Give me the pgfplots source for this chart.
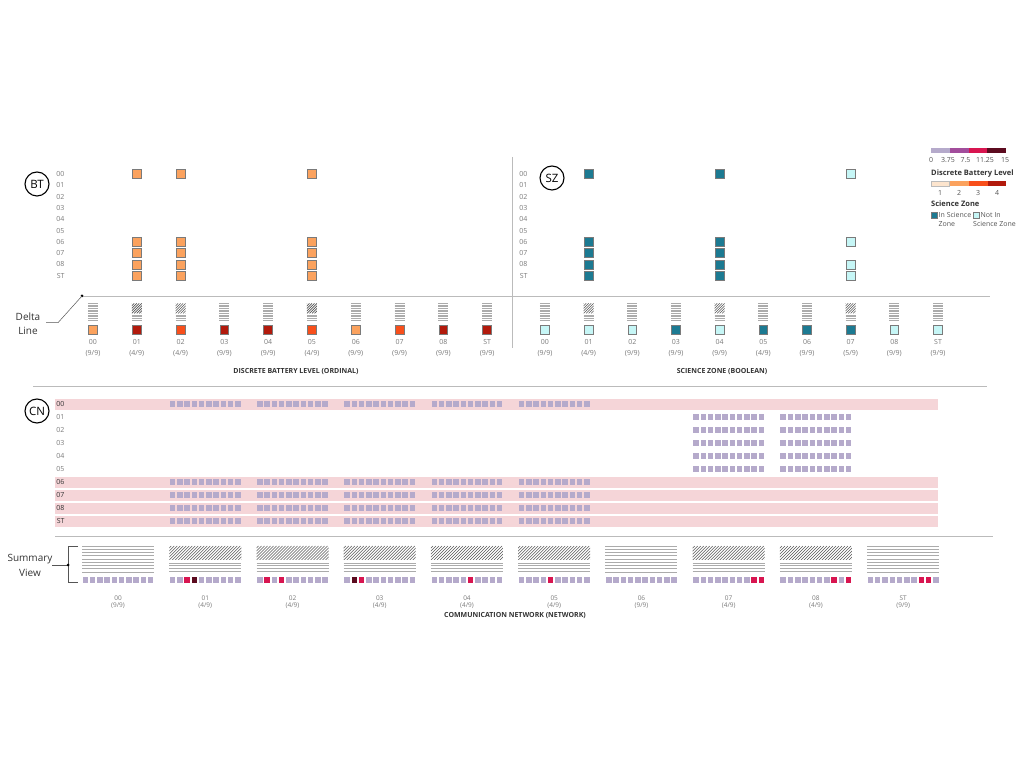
\documentclass[border=0pt]{standalone}
\usepackage{fontspec}
\setmainfont{Open Sans}
\usepackage{pgfplots}
\pgfplotsset{compat=1.18}

\definecolor{bl1}{HTML}{FDE5CE}
\definecolor{bl2}{HTML}{FBA25E}
\definecolor{bl3}{HTML}{F84F1B}
\definecolor{bl4}{HTML}{B21A0C}
\definecolor{szin}{HTML}{1C7A92}
\definecolor{szout}{HTML}{C6F6F6}
\definecolor{lav}{HTML}{B5AACB}
\definecolor{purp}{HTML}{A24D9C}
\definecolor{crim}{HTML}{D81550}
\definecolor{maroon}{HTML}{5C0B1F}
\definecolor{band}{HTML}{F5D5D8}
\definecolor{tickg}{HTML}{7A7A7A}
\definecolor{txt}{HTML}{333333}
\definecolor{rule}{HTML}{BBBBBB}
\definecolor{hlg}{HTML}{ABABAB}
\definecolor{hdk}{HTML}{555555}
\definecolor{sqb}{HTML}{7A7A7A}

% delta glyph: horizontal lines only
\pgfdeclareplotmark{dH}{%
  \pgfsetlinewidth{0.5pt}\pgfsetstrokecolor{hlg}%
  \foreach \k in {0,...,10}{%
    \pgfmathsetmacro\yy{8.5-1.65*\k}%
    \pgfpathmoveto{\pgfpoint{-5pt}{\yy pt}}\pgfpathlineto{\pgfpoint{5pt}{\yy pt}}\pgfusepath{stroke}}}
% delta glyph: hatched top, lines below
\pgfdeclareplotmark{dD}{%
  \pgfsetlinewidth{0.6pt}%
  \begin{pgfscope}%
    \pgfpathrectangle{\pgfpoint{-5pt}{-1.5pt}}{\pgfpoint{10pt}{10pt}}\pgfusepath{clip}%
    \pgfsetstrokecolor{hdk}%
    \foreach \k in {-15,-12.5,...,5}{%
      \pgfmathsetmacro\kk{\k+10}%
      \pgfpathmoveto{\pgfpoint{\k pt}{-1.5pt}}\pgfpathlineto{\pgfpoint{\kk pt}{8.5pt}}\pgfusepath{stroke}}%
  \end{pgfscope}%
  \pgfsetlinewidth{0.5pt}\pgfsetstrokecolor{hlg}%
  \foreach \yy in {-3,-4.7,-6.35,-8}{%
    \pgfpathmoveto{\pgfpoint{-5pt}{\yy pt}}\pgfpathlineto{\pgfpoint{5pt}{\yy pt}}\pgfusepath{stroke}}}
% summary glyph: lines only
\pgfdeclareplotmark{sH}{%
  \pgfsetlinewidth{0.8pt}\pgfsetstrokecolor{hlg}%
  \foreach \k in {0,...,8}{%
    \pgfmathsetmacro\yy{13-3.25*\k}%
    \pgfpathmoveto{\pgfpoint{-36pt}{\yy pt}}\pgfpathlineto{\pgfpoint{36pt}{\yy pt}}\pgfusepath{stroke}}}
% summary glyph: hatched top, lines below
\pgfdeclareplotmark{sD}{%
  \pgfsetlinewidth{0.6pt}%
  \begin{pgfscope}%
    \pgfpathrectangle{\pgfpoint{-36pt}{-1pt}}{\pgfpoint{72pt}{14pt}}\pgfusepath{clip}%
    \pgfsetstrokecolor{hdk}%
    \foreach \k in {-54,-51,...,36}{%
      \pgfmathsetmacro\kk{\k+14}%
      \pgfpathmoveto{\pgfpoint{\k pt}{-1pt}}\pgfpathlineto{\pgfpoint{\kk pt}{13pt}}\pgfusepath{stroke}}%
  \end{pgfscope}%
  \pgfsetlinewidth{0.8pt}\pgfsetstrokecolor{hlg}%
  \foreach \yy in {-4,-6.67,-9.33,-12}{%
    \pgfpathmoveto{\pgfpoint{-36pt}{\yy pt}}\pgfpathlineto{\pgfpoint{36pt}{\yy pt}}\pgfusepath{stroke}}}
% strip of ten small squares
\pgfdeclareplotmark{strip}{%
  \pgfsetfillcolor{lav}%
  \foreach \k in {0,...,9}{%
    \pgfmathsetmacro\xx{(\k-4.5)*7.27-2.75}%
    \pgfpathrectangle{\pgfpoint{\xx pt}{-2.75pt}}{\pgfpoint{5.5pt}{5.5pt}}\pgfusepath{fill}}}
% plain filled square
\pgfdeclareplotmark{fsq}{%
  \pgfpathrectangle{\pgfpoint{-\pgfplotmarksize}{-\pgfplotmarksize}}{\pgfpoint{2\pgfplotmarksize}{2\pgfplotmarksize}}\pgfusepathqfill}

\pgfplotsset{
  panel/.style={axis line style={draw=none}, major tick length=0pt, clip=false,
    tick style={draw=none}, anchor=south west,
    tick label style={font=\fontsize{7}{11}\selectfont, text=tickg},
    xticklabel style={align=center},
    /pgf/number format/assume math mode=true},
  bigsq/.style={only marks, mark=square*, mark size=4.4pt},
}

\begin{document}
\begin{tikzpicture}[x=1pt,y=1pt]
\path (0,0) rectangle (1024,768);

% ---------- rules ----------
\draw[rule, line width=0.8pt] (82,472) -- (990,472);
\fill[black] (82,472) circle (1.5pt);
\draw[rule, line width=0.8pt] (512,611) -- (512,420);
\draw[rule, line width=0.8pt] (33,382) -- (987,382);
\draw[rule, line width=0.8pt] (55,232) -- (993,232);

% ---------- BT panel ----------
\begin{axis}[panel, x=43.8pt, y=11.3pt, xmin=-0.57, xmax=9.5, ymin=-14.3, ymax=0.8,
  at={(68pt,432.4pt)},
  xtick={0,...,9},
  xticklabels={{00\\(9/9)},{01\\(4/9)},{02\\(4/9)},{03\\(9/9)},{04\\(9/9)},{05\\(4/9)},{06\\(9/9)},{07\\(9/9)},{08\\(9/9)},{ST\\(9/9)}},
  ytick={-9,...,0},
  yticklabels={ST,08,07,06,05,04,03,02,01,00}]
\addplot[bigsq, mark options={fill=bl2, draw=sqb, line width=0.6pt}] coordinates {
 (1,0)(1,-6)(1,-7)(1,-8)(1,-9)
 (2,0)(2,-6)(2,-7)(2,-8)(2,-9)
 (5,0)(5,-6)(5,-7)(5,-8)(5,-9)};
\addplot[only marks, mark=dH] coordinates {(0,-12.2)(3,-12.2)(4,-12.2)(6,-12.2)(7,-12.2)(8,-12.2)(9,-12.2)};
\addplot[only marks, mark=dD] coordinates {(1,-12.2)(2,-12.2)(5,-12.2)};
\addplot[bigsq, mark options={fill=bl2, draw=sqb, line width=0.6pt}] coordinates {(0,-13.8)(6,-13.8)};
\addplot[bigsq, mark options={fill=bl3, draw=sqb, line width=0.6pt}] coordinates {(2,-13.8)(5,-13.8)(7,-13.8)};
\addplot[bigsq, mark options={fill=bl4, draw=sqb, line width=0.6pt}] coordinates {(1,-13.8)(3,-13.8)(4,-13.8)(8,-13.8)(9,-13.8)};
\end{axis}

% ---------- SZ panel ----------
\begin{axis}[panel, x=43.67pt, y=11.3pt, xmin=-0.32, xmax=9.5, ymin=-14.3, ymax=0.8,
  at={(531pt,432.4pt)},
  xtick={0,...,9},
  xticklabels={{00\\(9/9)},{01\\(4/9)},{02\\(9/9)},{03\\(9/9)},{04\\(9/9)},{05\\(4/9)},{06\\(9/9)},{07\\(5/9)},{08\\(9/9)},{ST\\(9/9)}},
  ytick={-9,...,0},
  yticklabels={ST,08,07,06,05,04,03,02,01,00}]
\addplot[bigsq, mark options={fill=szin, draw=sqb, line width=0.6pt}] coordinates {
 (1,0)(1,-6)(1,-7)(1,-8)(1,-9)
 (4,0)(4,-6)(4,-7)(4,-8)(4,-9)};
\addplot[bigsq, mark options={fill=szout, draw=sqb, line width=0.6pt}] coordinates {
 (7,0)(7,-6)(7,-8)(7,-9)};
\addplot[only marks, mark=dH] coordinates {(0,-12.2)(2,-12.2)(3,-12.2)(5,-12.2)(6,-12.2)(8,-12.2)(9,-12.2)};
\addplot[only marks, mark=dD] coordinates {(1,-12.2)(4,-12.2)(7,-12.2)};
\addplot[bigsq, mark options={fill=szout, draw=sqb, line width=0.6pt}] coordinates {(0,-13.8)(1,-13.8)(2,-13.8)(4,-13.8)(8,-13.8)(9,-13.8)};
\addplot[bigsq, mark options={fill=szin, draw=sqb, line width=0.6pt}] coordinates {(3,-13.8)(5,-13.8)(6,-13.8)(7,-13.8)};
\end{axis}

% ---------- CN panel ----------
\begin{axis}[panel, axis on top, x=7.27pt, y=13pt, xmin=-2.38, xmax=118, ymin=-14.46, ymax=0.8,
  at={(68pt,176pt)},
  xticklabel style={font=\fontsize{6.5}{7.4}\selectfont},
  yticklabel style={font=\fontsize{7}{8}\selectfont, text=txt},
  xtick={4.5,16.5,28.5,40.5,52.5,64.5,76.5,88.5,100.5,112.5},
  xticklabels={{00\\(9/9)},{01\\(4/9)},{02\\(4/9)},{03\\(4/9)},{04\\(4/9)},{05\\(4/9)},{06\\(9/9)},{07\\(4/9)},{08\\(4/9)},{ST\\(9/9)}},
  ytick={-9,...,0},
  yticklabels={ST,08,07,06,{\color{tickg}05},{\color{tickg}04},{\color{tickg}03},{\color{tickg}02},{\color{tickg}01},00}]
\addplot[band, line width=11pt, no marks] coordinates {(-4.17,0)(117.3,0)};
\addplot[band, line width=11pt, no marks] coordinates {(-4.17,-6)(117.3,-6)};
\addplot[band, line width=11pt, no marks] coordinates {(-4.17,-7)(117.3,-7)};
\addplot[band, line width=11pt, no marks] coordinates {(-4.17,-8)(117.3,-8)};
\addplot[band, line width=11pt, no marks] coordinates {(-4.17,-9)(117.3,-9)};
\addplot[only marks, mark=strip] coordinates {
 (16.5,0)(16.5,-6)(16.5,-7)(16.5,-8)(16.5,-9)
 (28.5,0)(28.5,-6)(28.5,-7)(28.5,-8)(28.5,-9)
 (40.5,0)(40.5,-6)(40.5,-7)(40.5,-8)(40.5,-9)
 (52.5,0)(52.5,-6)(52.5,-7)(52.5,-8)(52.5,-9)
 (64.5,0)(64.5,-6)(64.5,-7)(64.5,-8)(64.5,-9)
 (88.5,-1)(88.5,-2)(88.5,-3)(88.5,-4)(88.5,-5)
 (100.5,-1)(100.5,-2)(100.5,-3)(100.5,-4)(100.5,-5)};
% summary view
\addplot[only marks, mark=sH] coordinates {(4.5,-11.92)(76.5,-11.92)(112.5,-11.92)};
\addplot[only marks, mark=sD] coordinates {(16.5,-11.92)(28.5,-11.92)(40.5,-11.92)(52.5,-11.92)(64.5,-11.92)(88.5,-11.92)(100.5,-11.92)};
\addplot[only marks, mark=strip] coordinates {(4.5,-13.54)(16.5,-13.54)(28.5,-13.54)(40.5,-13.54)(52.5,-13.54)(64.5,-13.54)(76.5,-13.54)(88.5,-13.54)(100.5,-13.54)(112.5,-13.54)};
\addplot[only marks, mark=fsq, mark size=2.75pt, color=crim] coordinates {
 (14,-13.54)(25,-13.54)(27,-13.54)(38,-13.54)(53,-13.54)(64,-13.54)
 (92,-13.54)(93,-13.54)(103,-13.54)(105,-13.54)(115,-13.54)(116,-13.54)};
\addplot[only marks, mark=fsq, mark size=2.75pt, color=maroon] coordinates {(15,-13.54)(37,-13.54)};
\end{axis}

% ---------- titles ----------
\node[font=\fontsize{7}{8}\selectfont\bfseries, text=txt] at (296,396) {DISCRETE BATTERY LEVEL (ORDINAL)};
\node[font=\fontsize{7}{8}\selectfont\bfseries, text=txt] at (722,396) {SCIENCE ZONE (BOOLEAN)};
\node[font=\fontsize{7}{8}\selectfont\bfseries, text=txt] at (515,152) {COMMUNICATION NETWORK (NETWORK)};

% ---------- circles ----------
\foreach \lab/\cx/\cy in {BT/37/584, SZ/552/590, CN/37/357}
  \node[circle, draw=black, line width=1.1pt, minimum size=24pt, inner sep=0pt, font=\fontsize{11.5}{11.5}\selectfont] at (\cx,\cy) {\lab};

% ---------- annotations ----------
\node[font=\fontsize{10}{14}\selectfont, align=center, text=txt] at (28,444) {Delta\\Line};
\draw[hdk, line width=0.5pt] (46,445.3) -- (58,445.3) -- (82,472);
\node[font=\fontsize{10}{14.5}\selectfont, align=center, text=txt] at (30,202.5) {Summary\\View};
\draw[hdk, line width=0.6pt] (78,222) -- (68,222) -- (68,186) -- (78,186);
\draw[hdk, line width=0.6pt] (52,203) -- (68,203);
\fill[black] (68,203) circle (1.5pt);

% ---------- legend ----------
\fill[lav] (931,615) rectangle (949.75,620);
\fill[purp] (949.75,615) rectangle (968.5,620);
\fill[crim] (968.5,615) rectangle (987.25,620);
\fill[maroon] (987.25,615) rectangle (1006,620);
\begin{scope}[font=\fontsize{7}{8}\selectfont, text=hdk]
\node at (931,608) {0};
\node at (948,608) {3.75};
\node at (965.5,608) {7.5};
\node at (985,608) {11.25};
\node at (1005,608) {15};
\node[font=\fontsize{7.5}{8}\selectfont\bfseries, text=txt, anchor=west, inner sep=0pt] at (931,594) {Discrete Battery Level};
\fill[bl1, draw=rule, line width=0.3pt] (931,582) rectangle (949.5,587);
\fill[bl2] (950,582) rectangle (968.5,587);
\fill[bl3] (969,582) rectangle (987.5,587);
\fill[bl4] (988,582) rectangle (1006,587);
\node at (940,575) {1};
\node at (959,575) {2};
\node at (978,575) {3};
\node at (997,575) {4};
\node[font=\fontsize{7.5}{8}\selectfont\bfseries, text=txt, anchor=west, inner sep=0pt] at (931,564) {Science Zone};
\fill[szin, draw=sqb, line width=0.3pt] (931,550) rectangle (937,556);
\node[anchor=west, inner sep=0pt] at (938.5,553) {In Science};
\node[anchor=west, inner sep=0pt] at (938.5,544) {Zone};
\fill[szout, draw=sqb, line width=0.3pt] (973,550) rectangle (979,556);
\node[anchor=west, inner sep=0pt] at (980.5,553) {Not In};
\node[anchor=west, inner sep=0pt] at (973,544) {Science Zone};
\end{scope}
\end{tikzpicture}
\end{document}
